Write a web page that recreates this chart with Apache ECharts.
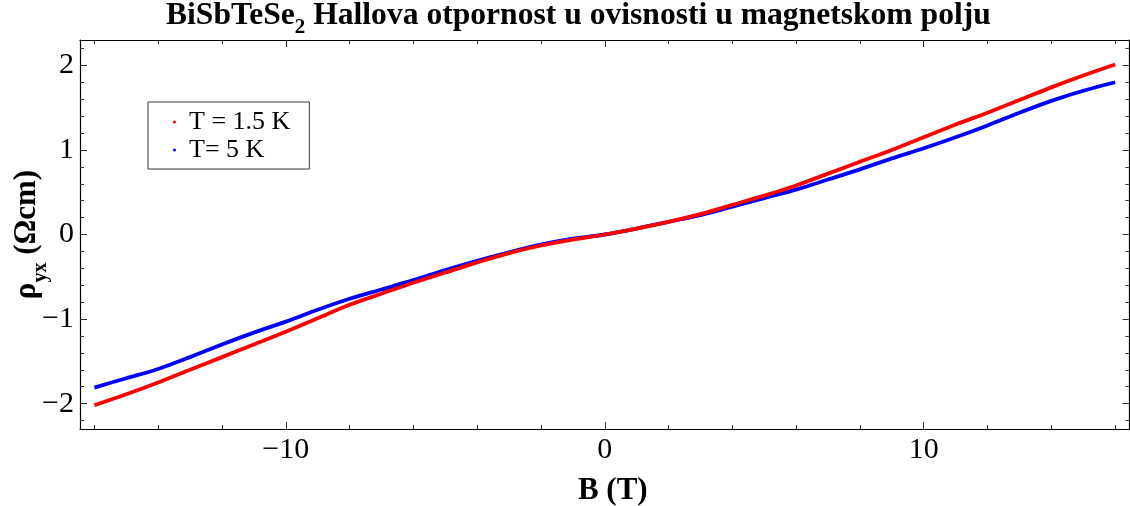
<!DOCTYPE html>
<html>
<head>
<meta charset="utf-8">
<script src="https://cdn.jsdelivr.net/npm/echarts@6/dist/echarts.min.js"></script>
<style>html,body{margin:0;padding:0;background:#fff}#c{width:1130px;height:506px}</style>
</head>
<body>
<div id="c"></div>
<script>
const fieldB = [-16,-15,-14,-13,-12,-11,-10,-9,-8,-7,-6,-5,-4,-3,-2,-1,0,1,2,3,4,5,6,7,8,9,10,11,12,13,14,15,16];
const rhoT15 = [-2.02,-1.89,-1.75,-1.60,-1.45,-1.30,-1.15,-0.99,-0.83,-0.70,-0.57,-0.45,-0.33,-0.22,-0.13,-0.06,0.00,0.07,0.15,0.24,0.35,0.46,0.58,0.72,0.86,1.00,1.15,1.30,1.44,1.59,1.74,1.88,2.01];
const rhoT5 = [-1.81,-1.70,-1.59,-1.45,-1.30,-1.16,-1.03,-0.89,-0.76,-0.65,-0.54,-0.42,-0.31,-0.21,-0.12,-0.05,0.00,0.07,0.15,0.23,0.33,0.43,0.53,0.65,0.77,0.90,1.02,1.15,1.29,1.44,1.58,1.70,1.80];
const xMajorTicks = [-10,0,10];
const xMinorTicks = [-16,-14,-12,-8,-6,-4,-2,2,4,6,8,12,14,16];
const yMajorTicks = [-2,-1,0,1,2];
const yMinorTicks = [-2.2,-1.8,-1.6,-1.4,-1.2,-0.8,-0.6,-0.4,-0.2,0.2,0.4,0.6,0.8,1.2,1.4,1.6,1.8,2.2];
const seriesNames = ['T = 1.5 K','T= 5 K'];

const FONT = 'Liberation Serif';
const fmt = v => v < 0 ? '\u2212' + Math.abs(v) : String(v);
const XMIN = -16.45, XMAX = 16.45, YMIN = -2.3, YMAX = 2.3;

function xAx(pos, vals, len, labels, show) {
  return {
    type: 'value', position: pos, min: XMIN, max: XMAX,
    axisLine: {show: show, onZero: false, lineStyle: {color: '#000', width: 1.2}},
    splitLine: {show: false},
    axisTick: {show: true, inside: true, length: len, customValues: vals, lineStyle: {color: '#333', width: 1}},
    axisLabel: labels ? {show: true, customValues: xMajorTicks, formatter: fmt, fontFamily: FONT, fontSize: 30, color: '#000', margin: 6} : {show: false}
  };
}
function yAx(pos, vals, len, labels, show) {
  return {
    type: 'value', position: pos, min: YMIN, max: YMAX,
    axisLine: {show: show, onZero: false, lineStyle: {color: '#000', width: 1.2}},
    splitLine: {show: false},
    axisTick: {show: true, inside: true, length: len, customValues: vals, lineStyle: {color: '#333', width: 1}},
    axisLabel: labels ? {show: true, customValues: yMajorTicks, formatter: fmt, fontFamily: FONT, fontSize: 30, color: '#000', margin: 6} : {show: false}
  };
}

const xAxes = [
  xAx('bottom', xMajorTicks, 7, true, true),
  xAx('bottom', xMinorTicks, 4, false, false),
  xAx('top', xMajorTicks, 7, false, true),
  xAx('top', xMinorTicks, 4, false, false)
];
xAxes[0].name = 'B (T)';
xAxes[0].nameLocation = 'middle';
xAxes[0].nameGap = 46;
xAxes[0].nameMoveOverlap = false;
xAxes[0].nameTextStyle = {fontFamily: FONT, fontSize: 31, fontWeight: 'bold', color: '#000', padding: [0,0,0,16]};

const yAxes = [
  yAx('left', yMajorTicks, 7, true, true),
  yAx('left', yMinorTicks, 4, false, false),
  yAx('right', yMajorTicks, 7, false, true),
  yAx('right', yMinorTicks, 4, false, false)
];
yAxes[0].name = '{a|\u03c1}{s|yx}{a| (\u03a9cm)}';
yAxes[0].nameLocation = 'middle';
yAxes[0].nameGap = 38;
yAxes[0].nameMoveOverlap = false;
yAxes[0].nameTextStyle = {
  rich: {
    a: {fontFamily: FONT, fontSize: 31, fontWeight: 'bold', color: '#000'},
    s: {fontFamily: FONT, fontSize: 20, fontWeight: 'bold', color: '#000', verticalAlign: 'bottom', padding: [0,0,-9,0]}
  }
};

const pairs = (xs, ys) => xs.map((x, i) => [x, ys[i]]);

const chart = echarts.init(document.getElementById('c'), null, {renderer: 'canvas'});
chart.setOption({
  animation: false,
  backgroundColor: '#fff',
  title: {
    text: '{a|BiSbTeSe}{s|2}{a| Hallova otpornost u ovisnosti u magnetskom polju}',
    left: 166, top: 0, padding: 0,
    textStyle: {
      rich: {
        a: {fontFamily: FONT, fontSize: 31.6, fontWeight: 'bold', color: '#000'},
        s: {fontFamily: FONT, fontSize: 21, fontWeight: 'bold', color: '#000', verticalAlign: 'bottom', padding: [0,0,-6,0]}
      }
    }
  },
  grid: {left: 80, right: 0.5, top: 40, bottom: 77, containLabel: false, outerBoundsMode: 'none'},
  legend: {
    data: seriesNames,
    orient: 'vertical',
    left: 148, top: 102,
    borderColor: '#333', borderWidth: 1,
    padding: [6, 19, 5, 25],
    itemGap: 0,
    icon: 'circle', itemWidth: 3, itemHeight: 3,
    textStyle: {fontFamily: FONT, fontSize: 26, color: '#000', padding: [0,0,0,8], lineHeight: 28}
  },
  xAxis: xAxes,
  yAxis: yAxes,
  series: [
    {name: seriesNames[1], type: 'line', smooth: 0.3, showSymbol: false, symbol: 'circle', data: pairs(fieldB, rhoT5),
     color: '#0000ff', lineStyle: {color: '#0000ff', width: 3.8}, z: 2},
    {name: seriesNames[0], type: 'line', smooth: 0.3, showSymbol: false, symbol: 'circle', data: pairs(fieldB, rhoT15),
     color: '#ff0000', lineStyle: {color: '#ff0000', width: 3.8}, z: 3}
  ]
});
</script>
</body>
</html>
